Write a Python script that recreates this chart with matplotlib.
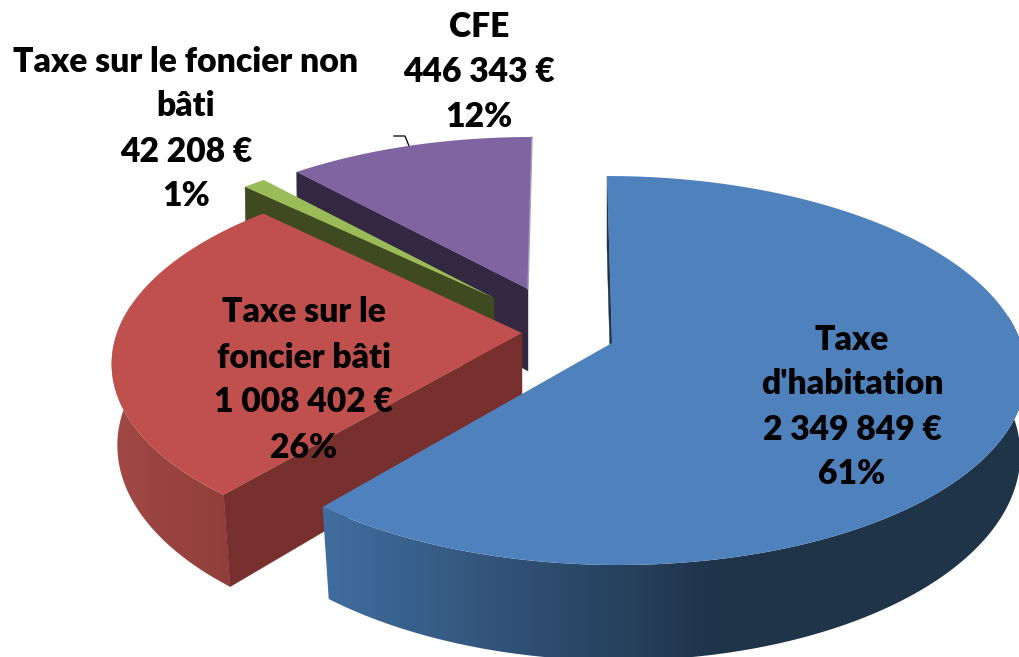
import numpy as np
import matplotlib
matplotlib.use('Agg')
import matplotlib.pyplot as plt
from matplotlib.colors import to_rgb
from matplotlib.patches import Polygon

categories = ["Taxe\nd'habitation", 'Taxe sur le\nfoncier bâti', 'Taxe sur le foncier non\nbâti', 'CFE']
values = [2349849, 1008402, 42208, 446343]

top_colors = ['#4f81bd', '#c0504d', '#9bbb59', '#8064a2']
cut_colors = ['#1f3349', '#77302e', '#3f4a20', '#322841']
wall_left = ['#406c9e', '#a04845', '#3f4a20', '#322841']
wall_right = ['#1f3349', '#913e3b', '#3f4a20', '#322841']
wall_range = [(330, 720), (115, 230), (245, 495), (297, 528)]

# exploded slices: apex, radius, back/front radius, skew
apex = [(612, 343), (522, 333), (494, 298), (528, 289)]
radius_x = [409, 405, 382, 389]
radius_y = [190.6, 188, 175, 173.5]
skew = [5.7, -8, 0, -4.6]

label_pos = [(852, 407), (304, 380), (186, 129), (479, 72)]

persp = 0.1414
depth = 82


def project(i, t):
    u = np.sin(t)
    v = -np.cos(t)
    s = 1 / (1 - persp * v)
    x = apex[i][0] + (radius_x[i] * u + skew[i] * v) * s
    y = apex[i][1] + radius_y[i] * v * s
    x_bot = apex[i][0] + (x - apex[i][0]) * (1 - 0.012 * (1 + v))
    y_bot = y + depth * s
    return x, y, x_bot, y_bot


fig = plt.figure(figsize=(10.19, 6.57), dpi=100)
ax = fig.add_axes([0, 0, 1, 1])

total = sum(values)
edges = np.cumsum([0] + values) / total * 2 * np.pi

# back slices first, so the biggest one comes out on top
for i in [3, 2, 1, 0]:
    z = i * -10 + 31
    t = np.linspace(edges[i], edges[i + 1], 300)
    x, y, x_bot, y_bot = project(i, t)
    cx, cy = apex[i]

    # outer wall with a left to right gradient, only the part facing us
    front = -np.cos(t) > -0.15
    if front.any():
        poly = Polygon(np.c_[np.r_[x[front], x_bot[front][::-1]], np.r_[y[front], y_bot[front][::-1]]],
                       closed=True, facecolor='none', edgecolor='none', transform=ax.transData)
        ax.add_patch(poly)
        x0, x1 = wall_range[i]
        c0 = np.array(to_rgb(wall_left[i]))
        c1 = np.array(to_rgb(wall_right[i]))
        grad = c0 + (c1 - c0) * np.linspace(0, 1, 256)[:, None]
        # gradient stays flat outside wall_range
        im = ax.imshow(grad[None, :, :], extent=(x0, x1, 700, 0), aspect='auto', zorder=z)
        im.set_clip_path(poly)
        ax.imshow(np.repeat(grad[None, :1, :], 2, axis=1), extent=(0, x0, 700, 0), aspect='auto', zorder=z).set_clip_path(poly)
        ax.imshow(np.repeat(grad[None, -1:, :], 2, axis=1), extent=(x1, 1040, 700, 0), aspect='auto', zorder=z).set_clip_path(poly)

    # cut face at the start of the slice
    ax.fill([cx, x[0], x_bot[0], cx], [cy, y[0], y_bot[0], cy + depth], color=cut_colors[i], lw=0.3, zorder=z)

    # top face
    ax.fill(np.r_[cx, x], np.r_[cy, y], color=top_colors[i], lw=0, zorder=z + 1)

# pale edge on the right of the purple slice
x, y, _, _ = project(3, np.array([2 * np.pi]))
ax.plot([x[0], apex[3][0]], [y[0], apex[3][1]], color='#a99cc0', lw=1, zorder=3)

# leader of the CFE label
ax.plot([394, 405, 409], [136, 136, 146], color='black', lw=0.9, zorder=1)

for i in range(len(values)):
    value = f'{values[i]:,}'.replace(',', ' ')
    pct = round(values[i] / total * 100)
    ax.text(label_pos[i][0], label_pos[i][1], f'{categories[i]}\n{value} €\n{pct}%',
            ha='center', va='center', ma='center', family=['Lato', 'DejaVu Sans'], fontweight=800,
            fontsize=24.2, color='black', linespacing=1.5, zorder=40)

ax.set_xlim(0, 1019)
ax.set_ylim(657, 0)
ax.axis('off')

fig.savefig('out.png', dpi=100)
